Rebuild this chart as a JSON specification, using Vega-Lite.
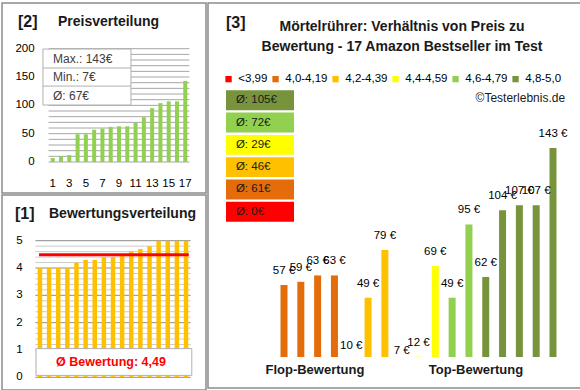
{
  "$schema": "https://vega.github.io/schema/vega-lite/v6.json",
  "padding": {"left": 1, "top": 2, "right": 0, "bottom": 0},
  "background": "white",
  "spacing": 0,
  "config": {
    "view": {"stroke": "#8c8c8c", "strokeWidth": 1.5},
    "font": "Liberation Sans",
    "legend": {"labelFont": "Liberation Sans"},
    "scale": {"continuousPadding": 0}
  },
  "datasets": {
    "produkte": [
      {"preis": 57, "bewertung": 4.0, "klasse": "4,0-4,19"},
      {"preis": 59, "bewertung": 4.0, "klasse": "4,0-4,19"},
      {"preis": 63, "bewertung": 4.0, "klasse": "4,0-4,19"},
      {"preis": 63, "bewertung": 4.0, "klasse": "4,0-4,19"},
      {"preis": 10, "bewertung": 4.2, "klasse": "4,2-4,39"},
      {"preis": 49, "bewertung": 4.3, "klasse": "4,2-4,39"},
      {"preis": 79, "bewertung": 4.3, "klasse": "4,2-4,39"},
      {"preis": 7, "bewertung": 4.4, "klasse": "4,4-4,59"},
      {"preis": 12, "bewertung": 4.4, "klasse": "4,4-4,59"},
      {"preis": 69, "bewertung": 4.5, "klasse": "4,4-4,59"},
      {"preis": 49, "bewertung": 4.6, "klasse": "4,6-4,79"},
      {"preis": 95, "bewertung": 4.7, "klasse": "4,6-4,79"},
      {"preis": 62, "bewertung": 4.8, "klasse": "4,8-5,0"},
      {"preis": 104, "bewertung": 5.0, "klasse": "4,8-5,0"},
      {"preis": 107, "bewertung": 5.0, "klasse": "4,8-5,0"},
      {"preis": 107, "bewertung": 5.0, "klasse": "4,8-5,0"},
      {"preis": 143, "bewertung": 5.0, "klasse": "4,8-5,0"}
    ],
    "mittel": [
      {"klasse": "4,8-5,0", "mittel": 105},
      {"klasse": "4,6-4,79", "mittel": 72},
      {"klasse": "4,4-4,59", "mittel": 29},
      {"klasse": "4,2-4,39", "mittel": 46},
      {"klasse": "4,0-4,19", "mittel": 61},
      {"klasse": "<3,99", "mittel": 0}
    ],
    "gitterPreis": [
      {"wert": 0}, {"wert": 10}, {"wert": 20}, {"wert": 30}, {"wert": 40}, {"wert": 50}, {"wert": 60},
      {"wert": 70}, {"wert": 80}, {"wert": 90}, {"wert": 100}, {"wert": 110}, {"wert": 120}, {"wert": 130},
      {"wert": 140}, {"wert": 150}, {"wert": 160}, {"wert": 170}, {"wert": 180}, {"wert": 190}, {"wert": 200}
    ],
    "gitterBewertungFein": [
      {"wert": 0.2}, {"wert": 0.4}, {"wert": 0.6}, {"wert": 0.8}, {"wert": 1.2},
      {"wert": 1.4}, {"wert": 1.6}, {"wert": 1.8}, {"wert": 2.2}, {"wert": 2.4}, {"wert": 2.6},
      {"wert": 2.8}, {"wert": 3.2}, {"wert": 3.4}, {"wert": 3.6}, {"wert": 3.8},
      {"wert": 4.2}, {"wert": 4.4}, {"wert": 4.6}, {"wert": 4.8}
    ],
    "gitterBewertungGrob": [
      {"wert": 0}, {"wert": 1}, {"wert": 2}, {"wert": 3}, {"wert": 4}, {"wert": 5}
    ]
  },
  "hconcat": [
    {
      "spacing": 0,
      "vconcat": [
        {
          "width": 204,
          "height": 190,
          "layer": [
            {
              "data": {"name": "gitterPreis"},
              "mark": {"type": "rule", "color": "#a6a6a6", "strokeWidth": 1},
              "encoding": {"x": {"datum": 0.5, "axis": null}, "x2": {"datum": 17.5}, "y": {"field": "wert", "type": "quantitative", "axis": null}}
            },
            {
              "data": {"name": "gitterPreis"},
              "transform": [{"filter": "datum.wert % 50 === 0"}],
              "mark": {"type": "text", "align": "right", "baseline": "middle", "fontSize": 11.5, "color": "#000000"},
              "encoding": {"x": {"datum": -1.19, "axis": null}, "y": {"field": "wert", "type": "quantitative", "axis": null}, "text": {"field": "wert", "type": "quantitative"}}
            },
            {
              "data": {"name": "produkte"},
              "transform": [{"window": [{"op": "row_number", "as": "rang"}], "sort": [{"field": "preis"}]}],
              "mark": {"type": "bar", "color": "#92D050", "width": 4},
              "encoding": {
                "x": {"field": "rang", "type": "quantitative",
                  "scale": {"domain": [0.5, 17.5], "range": [46.6, 187.4], "nice": false, "zero": false}, "axis": null},
                "y": {"field": "preis", "type": "quantitative",
                  "scale": {"domain": [0, 200], "range": [159, 45.7], "nice": false}, "axis": null}
              }
            },
            {
              "data": {"name": "produkte"},
              "transform": [{"window": [{"op": "row_number", "as": "rang"}], "sort": [{"field": "preis"}]}, {"filter": "datum.rang % 2 === 1"}],
              "mark": {"type": "text", "align": "center", "baseline": "middle", "fontSize": 11.5, "color": "#000000"},
              "encoding": {"x": {"field": "rang", "type": "quantitative", "axis": null}, "y": {"datum": -38.3, "axis": null}, "text": {"field": "rang", "type": "quantitative"}}
            },
            {
              "data": {"values": [{}]},
              "mark": {"type": "rect", "fill": "white", "stroke": "#b0b0b0", "strokeWidth": 1},
              "encoding": {"x": {"datum": -0.18, "axis": null}, "x2": {"datum": 10.44}, "y": {"datum": 199.4, "axis": null}, "y2": {"datum": 100.6}}
            },
            {
              "data": {"values": [{}]},
              "mark": {"type": "rule", "color": "#b0b0b0", "strokeWidth": 1},
              "encoding": {"x": {"datum": -0.18, "axis": null}, "x2": {"datum": 10.44}, "y": {"datum": 165.9, "axis": null}}
            },
            {
              "data": {"values": [{}]},
              "mark": {"type": "rule", "color": "#b0b0b0", "strokeWidth": 1},
              "encoding": {"x": {"datum": -0.18, "axis": null}, "x2": {"datum": 10.44}, "y": {"datum": 134, "axis": null}}
            },
            {
              "data": {"values": [{}]},
              "mark": {"type": "text", "align": "left", "fontSize": 12, "color": "#404040"},
              "encoding": {"x": {"datum": 1.03, "axis": null}, "y": {"datum": 182.6, "axis": null}, "text": {"value": "Max.: 143€"}}
            },
            {
              "data": {"values": [{}]},
              "mark": {"type": "text", "align": "left", "fontSize": 12, "color": "#404040"},
              "encoding": {"x": {"datum": 1.03, "axis": null}, "y": {"datum": 150, "axis": null}, "text": {"value": "Min.: 7€"}}
            },
            {
              "data": {"values": [{}]},
              "mark": {"type": "text", "align": "left", "fontSize": 12, "color": "#404040"},
              "encoding": {"x": {"datum": 1.03, "axis": null}, "y": {"datum": 117.3, "axis": null}, "text": {"value": "Ø: 67€"}}
            },
            {
              "data": {"values": [{}]},
              "mark": {"type": "text", "align": "left", "fontSize": 16, "fontWeight": "bold", "color": "#1a1a1a"},
              "encoding": {"x": {"datum": -3.2, "axis": null}, "y": {"datum": 247, "axis": null}, "text": {"value": "[2]"}}
            },
            {
              "data": {"values": [{}]},
              "mark": {"type": "text", "align": "left", "fontSize": 14, "fontWeight": "bold", "color": "#1a1a1a"},
              "encoding": {"x": {"datum": 1.635, "axis": null}, "y": {"datum": 247, "axis": null}, "text": {"value": "Preisverteilung"}}
            }
          ]
        },
        {
          "width": 204,
          "height": 195,
          "layer": [
            {
              "data": {"name": "gitterBewertungFein"},
              "mark": {"type": "rule", "color": "#cccccc", "strokeWidth": 1},
              "encoding": {"x": {"datum": 0.5, "axis": null}, "x2": {"datum": 17.5}, "y": {"field": "wert", "type": "quantitative", "axis": null}}
            },
            {
              "data": {"name": "gitterBewertungGrob"},
              "mark": {"type": "rule", "color": "#8c8c8c", "strokeWidth": 1},
              "encoding": {"x": {"datum": 0.5, "axis": null}, "x2": {"datum": 17.5}, "y": {"field": "wert", "type": "quantitative", "axis": null}}
            },
            {
              "data": {"name": "gitterBewertungGrob"},
              "mark": {"type": "text", "align": "right", "baseline": "middle", "fontSize": 11.5, "color": "#000000"},
              "encoding": {"x": {"datum": -0.89, "axis": null}, "y": {"field": "wert", "type": "quantitative", "axis": null}, "text": {"field": "wert", "type": "quantitative"}}
            },
            {
              "data": {"name": "produkte"},
              "transform": [{"window": [{"op": "row_number", "as": "rang"}], "sort": [{"field": "bewertung"}]}],
              "mark": {"type": "bar", "color": "#FFC000", "width": 4.5},
              "encoding": {
                "x": {"field": "rang", "type": "quantitative",
                  "scale": {"domain": [0.5, 17.5], "range": [33.4, 188.6], "nice": false, "zero": false}, "axis": null},
                "y": {"field": "bewertung", "type": "quantitative",
                  "scale": {"domain": [0, 5], "range": [182.3, 45.7], "nice": false}, "axis": null}
              }
            },
            {
              "data": {"values": [{}]},
              "mark": {"type": "rule", "color": "#FF0000", "strokeWidth": 3},
              "encoding": {"x": {"datum": 0.9, "axis": null}, "x2": {"datum": 17.3}, "y": {"datum": 4.49, "axis": null}}
            },
            {
              "data": {"values": [{}]},
              "mark": {"type": "rect", "fill": "white", "stroke": "#b0b0b0", "strokeWidth": 1},
              "encoding": {"x": {"datum": 0.57, "axis": null}, "x2": {"datum": 17.63}, "y": {"datum": 1.05, "axis": null}, "y2": {"datum": 0.07}}
            },
            {
              "data": {"values": [{}]},
              "mark": {"type": "text", "align": "center", "fontSize": 12.5, "fontWeight": "bold", "color": "#FF0000"},
              "encoding": {"x": {"datum": 8.78, "axis": null}, "y": {"datum": 0.56, "axis": null}, "text": {"value": "Ø Bewertung: 4,49"}}
            },
            {
              "data": {"values": [{}]},
              "mark": {"type": "text", "align": "left", "fontSize": 16, "fontWeight": "bold", "color": "#1a1a1a"},
              "encoding": {"x": {"datum": -1.73, "axis": null}, "y": {"datum": 5.98, "axis": null}, "text": {"value": "[1]"}}
            },
            {
              "data": {"values": [{}]},
              "mark": {"type": "text", "align": "left", "fontSize": 14, "fontWeight": "bold", "color": "#1a1a1a"},
              "encoding": {"x": {"datum": 1.99, "axis": null}, "y": {"datum": 5.98, "axis": null}, "text": {"value": "Bewertungsverteilung"}}
            }
          ]
        }
      ]
    },
    {
      "width": 373,
      "height": 385,
      "resolve": {"scale": {"y": "independent"}},
      "layer": [
        {
          "layer": [
            {
              "data": {"name": "produkte"},
              "transform": [
                {"window": [{"op": "row_number", "as": "rang"}], "sort": [{"field": "klasse"}, {"field": "preis"}]},
                {"filter": "datum.preis > 11.8"}
              ],
              "mark": {"type": "bar", "width": 7},
              "encoding": {
                "x": {"field": "rang", "type": "quantitative",
                  "scale": {"domain": [0.5, 17.5], "range": [67.6, 353.4], "nice": false, "zero": false}, "axis": null},
                "y": {"field": "preis", "type": "quantitative",
                  "scale": {"domain": [11.8, 143], "range": [354, 145], "nice": false, "zero": false}, "axis": null},
                "y2": {"datum": 11.8},
                "color": {"field": "klasse", "type": "nominal",
                  "scale": {"domain": ["<3,99", "4,0-4,19", "4,2-4,39", "4,4-4,59", "4,6-4,79", "4,8-5,0"],
                            "range": ["#FF0000", "#E46C0A", "#FFC000", "#FFFF00", "#92D050", "#77933C"]},
                  "legend": {"orient": "none", "legendX": 220.8, "legendY": 70, "direction": "horizontal", "title": null,
                    "symbolType": "square", "symbolSize": 40, "symbolStrokeWidth": 0, "labelFontSize": 11.5, "labelColor": "#000000",
                    "labelOffset": 4, "columnPadding": 2, "padding": 0}}
              }
            },
            {
              "data": {"name": "produkte"},
              "transform": [
                {"window": [{"op": "row_number", "as": "rang"}], "sort": [{"field": "klasse"}, {"field": "preis"}]},
                {"calculate": "datum.preis + ' €'", "as": "etikett"}
              ],
              "mark": {"type": "text", "dy": -14, "fontSize": 11.5, "color": "#000000"},
              "encoding": {
                "x": {"field": "rang", "type": "quantitative", "axis": null},
                "y": {"field": "preis", "type": "quantitative", "axis": null},
                "text": {"field": "etikett"}
              }
            },
            {
              "data": {"values": [{}]},
              "mark": {"type": "text", "align": "left", "fontSize": 16, "fontWeight": "bold", "color": "#1a1a1a"},
              "encoding": {"x": {"datum": -2.45, "axis": null}, "y": {"datum": 221.6, "axis": null}, "text": {"value": "[3]"}}
            },
            {
              "data": {"values": [{}]},
              "mark": {"type": "text", "align": "center", "baseline": "middle", "fontSize": 14, "fontWeight": "bold", "lineHeight": 20, "color": "#1a1a1a"},
              "encoding": {"x": {"datum": 8.02, "axis": null}, "y": {"datum": 219.1, "axis": null}, "text": {"value": ["Mörtelrührer: Verhältnis von Preis zu", "Bewertung - 17 Amazon Bestseller im Test"]}}
            },
            {
              "data": {"values": [{}]},
              "mark": {"type": "text", "align": "right", "fontSize": 12, "color": "#1a1a1a"},
              "encoding": {"x": {"datum": 17.72, "axis": null}, "y": {"datum": 174.1, "axis": null}, "text": {"value": "©Testerlebnis.de"}}
            },
            {
              "data": {"values": [{}]},
              "mark": {"type": "text", "align": "center", "fontSize": 13, "fontWeight": "bold", "color": "#1a1a1a"},
              "encoding": {"x": {"datum": 2.84, "axis": null}, "y": {"datum": 3.63, "axis": null}, "text": {"value": "Flop-Bewertung"}}
            },
            {
              "data": {"values": [{}]},
              "mark": {"type": "text", "align": "center", "fontSize": 13, "fontWeight": "bold", "color": "#1a1a1a"},
              "encoding": {"x": {"datum": 12.42, "axis": null}, "y": {"datum": 3.63, "axis": null}, "text": {"value": "Top-Bewertung"}}
            }
          ]
        },
        {
          "data": {"name": "mittel"},
          "transform": [{"calculate": "'Ø: ' + datum.mittel + '€'", "as": "etikett"}],
          "layer": [
            {
              "mark": {"type": "rect"},
              "encoding": {
                "x": {"datum": -2.45, "axis": null},
                "x2": {"datum": 1.595},
                "y": {"field": "klasse", "type": "nominal",
                  "scale": {"domain": ["4,8-5,0", "4,6-4,79", "4,4-4,59", "4,2-4,39", "4,0-4,19", "<3,99"], "range": [87.3, 218.7], "paddingInner": 0.11, "paddingOuter": 0},
                  "axis": null},
                "color": {"field": "klasse", "type": "nominal",
                  "scale": {"domain": ["<3,99", "4,0-4,19", "4,2-4,39", "4,4-4,59", "4,6-4,79", "4,8-5,0"],
                            "range": ["#FF0000", "#E46C0A", "#FFC000", "#FFFF00", "#92D050", "#77933C"]},
                  "legend": {"orient": "none", "legendX": 220.8, "legendY": 70, "direction": "horizontal", "title": null,
                    "symbolType": "square", "symbolSize": 40, "symbolStrokeWidth": 0, "labelFontSize": 11.5, "labelColor": "#000000",
                    "labelOffset": 4, "columnPadding": 2, "padding": 0}}
              }
            },
            {
              "mark": {"type": "text", "align": "left", "fontSize": 11.5, "color": "#1a1a1a"},
              "encoding": {
                "x": {"datum": -1.86, "axis": null},
                "y": {"field": "klasse", "type": "nominal", "axis": null},
                "text": {"field": "etikett"}
              }
            }
          ]
        }
      ]
    }
  ]
}
